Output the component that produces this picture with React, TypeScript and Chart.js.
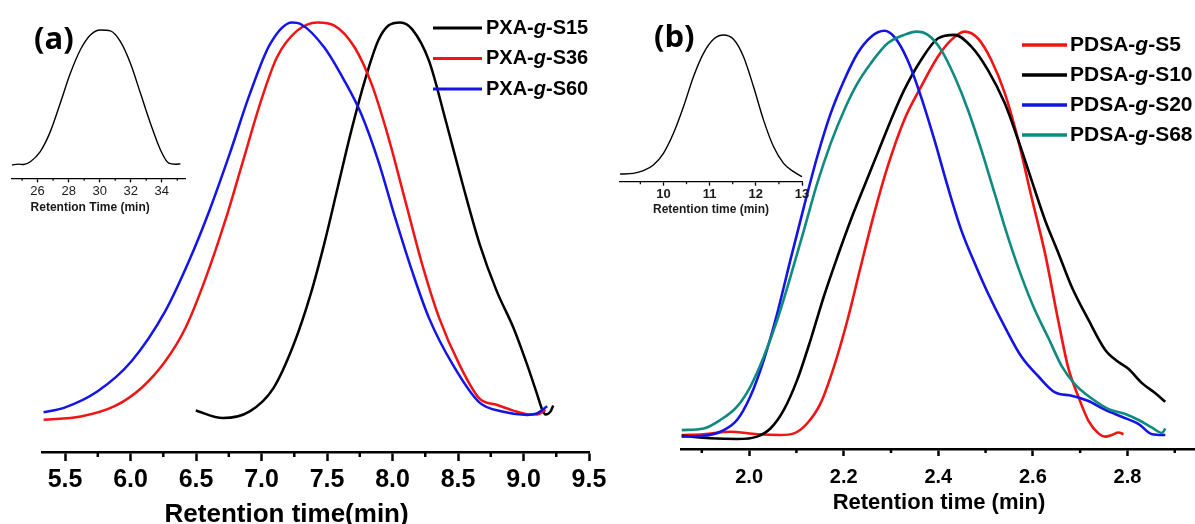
import React, { useEffect, useRef } from 'react';
import { Chart, registerables } from 'chart.js';
Chart.register(...registerables);

const FONT = "'Liberation Sans', Arial, Helvetica, sans-serif";

// ---------- Panel (a) main ----------
const aMajorTicks = [5.5, 6.0, 6.5, 7.0, 7.5, 8.0, 8.5, 9.0, 9.5];
const aMinorTicks = [5.75, 6.25, 6.75, 7.25, 7.75, 8.25, 8.75, 9.25];
const aS15X = [6.498, 6.704, 6.910, 7.091, 7.246, 7.375, 7.478, 7.581, 7.685, 7.788, 7.891, 7.969, 8.059, 8.149, 8.278, 8.407, 8.536, 8.665, 8.794, 8.923, 9.027, 9.104, 9.143, 9.168, 9.207, 9.227];
const aS15Y = [0.015, -0.004, 0.013, 0.072, 0.183, 0.310, 0.437, 0.580, 0.724, 0.851, 0.953, 0.991, 0.999, 0.982, 0.902, 0.749, 0.588, 0.437, 0.319, 0.225, 0.132, 0.056, 0.017, 0.005, 0.013, 0.028];
const aS36X = [5.336, 5.620, 5.878, 6.085, 6.265, 6.420, 6.575, 6.730, 6.859, 6.988, 7.117, 7.272, 7.427, 7.556, 7.710, 7.840, 7.969, 8.098, 8.227, 8.356, 8.510, 8.665, 8.800, 8.923, 9.025, 9.104, 9.168];
const aS36Y = [-0.008, 0.0, 0.026, 0.073, 0.140, 0.225, 0.352, 0.504, 0.648, 0.792, 0.910, 0.978, 0.999, 0.991, 0.936, 0.843, 0.707, 0.546, 0.385, 0.250, 0.132, 0.045, 0.029, 0.015, 0.006, 0.005, 0.017];
const aS60X = [5.336, 5.491, 5.749, 6.007, 6.265, 6.446, 6.601, 6.756, 6.910, 7.065, 7.233, 7.298, 7.478, 7.633, 7.762, 7.891, 8.020, 8.149, 8.278, 8.459, 8.665, 8.846, 9.027, 9.103, 9.181];
const aS60Y = [0.011, 0.022, 0.064, 0.140, 0.267, 0.394, 0.521, 0.665, 0.817, 0.944, 0.999, 0.995, 0.936, 0.851, 0.766, 0.648, 0.504, 0.369, 0.250, 0.132, 0.035, 0.012, 0.004, 0.008, 0.026];

// ---------- Panel (a) inset ----------
const iaMajorTicks = [26, 28, 30, 32, 34];
const iaMinorTicks = [25, 27, 29, 31, 33, 35];
const iaX = [24.35, 24.75, 25.10, 25.53, 26.17, 26.82, 27.46, 28.11, 28.75, 29.40, 30.05, 30.69, 31.34, 31.98, 32.63, 33.27, 33.92, 34.45, 34.88, 35.21];
const iaY = [0, 0.006, 0.003, 0.024, 0.099, 0.247, 0.457, 0.679, 0.852, 0.963, 1.0, 0.993, 0.913, 0.753, 0.531, 0.309, 0.111, 0.013, 0.005, 0.008];

// ---------- Panel (b) main ----------
const bMajorTicks = [2.0, 2.2, 2.4, 2.6, 2.8];
const bMinorTicks = [1.9, 2.1, 2.3, 2.5, 2.7, 2.9];
const bS5X = [1.8575, 1.9036, 1.960, 2.0167, 2.066, 2.0947, 2.123, 2.151, 2.1795, 2.208, 2.236, 2.2645, 2.293, 2.328, 2.3636, 2.399, 2.427, 2.4556, 2.484, 2.512, 2.5406, 2.569, 2.597, 2.6256, 2.654, 2.675, 2.696, 2.7176, 2.7387, 2.753, 2.767, 2.781, 2.7917];
const bS5Y = [0.0, 0.002, 0.008, 0.002, 0.0, 0.004, 0.029, 0.078, 0.169, 0.284, 0.416, 0.547, 0.663, 0.778, 0.860, 0.934, 0.975, 0.996, 0.979, 0.926, 0.844, 0.728, 0.588, 0.449, 0.280, 0.165, 0.095, 0.035, 0.004, -0.004, 0.0, 0.006, 0.002];
const bS10X = [1.8575, 1.9178, 1.9744, 2.0167, 2.045, 2.0734, 2.1017, 2.130, 2.158, 2.1867, 2.215, 2.243, 2.2717, 2.300, 2.328, 2.3636, 2.399, 2.4345, 2.470, 2.505, 2.5406, 2.569, 2.597, 2.6256, 2.654, 2.682, 2.7176, 2.753, 2.781, 2.8025, 2.8307, 2.859, 2.880];
const bS10Y = [-0.002, -0.008, -0.010, -0.004, 0.016, 0.062, 0.136, 0.235, 0.342, 0.440, 0.531, 0.613, 0.696, 0.778, 0.852, 0.926, 0.979, 0.988, 0.959, 0.901, 0.819, 0.728, 0.630, 0.531, 0.449, 0.366, 0.284, 0.210, 0.180, 0.163, 0.128, 0.103, 0.082];
const bS20X = [1.8575, 1.9036, 1.939, 1.9744, 2.0025, 2.031, 2.0594, 2.0875, 2.116, 2.144, 2.1725, 2.201, 2.229, 2.2575, 2.286, 2.307, 2.335, 2.3636, 2.392, 2.420, 2.4486, 2.477, 2.505, 2.5406, 2.576, 2.6114, 2.647, 2.682, 2.7176, 2.753, 2.788, 2.8237, 2.852, 2.880];
const bS20Y = [-0.004, -0.002, 0.008, 0.037, 0.095, 0.185, 0.300, 0.433, 0.564, 0.687, 0.794, 0.876, 0.942, 0.983, 0.998, 0.983, 0.926, 0.835, 0.728, 0.613, 0.506, 0.424, 0.350, 0.267, 0.193, 0.145, 0.105, 0.097, 0.084, 0.062, 0.045, 0.027, 0.002, 0.0];
const bS68X = [1.8575, 1.9036, 1.939, 1.9744, 2.0025, 2.031, 2.0594, 2.0875, 2.116, 2.144, 2.1725, 2.201, 2.229, 2.2575, 2.293, 2.328, 2.3535, 2.378, 2.406, 2.4345, 2.463, 2.491, 2.519, 2.547, 2.576, 2.604, 2.6326, 2.661, 2.689, 2.7245, 2.760, 2.7954, 2.8237, 2.852, 2.873, 2.880];
const bS68Y = [0.012, 0.016, 0.037, 0.070, 0.119, 0.193, 0.284, 0.391, 0.506, 0.621, 0.720, 0.802, 0.868, 0.918, 0.967, 0.988, 0.996, 0.988, 0.951, 0.885, 0.802, 0.704, 0.597, 0.490, 0.391, 0.309, 0.240, 0.170, 0.125, 0.090, 0.064, 0.052, 0.037, 0.018, 0.005, 0.016];

// ---------- Panel (b) inset ----------
const ibMajorTicks = [10, 11, 12, 13];
const ibMinorTicks = [9.5, 10.5, 11.5, 12.5];
const ibX = [9.061, 9.350, 9.566, 9.783, 10.0, 10.217, 10.434, 10.650, 10.867, 11.084, 11.301, 11.517, 11.734, 11.951, 12.168, 12.385, 12.601, 12.818, 13.0];
const ibY = [0, 0.005, 0.024, 0.065, 0.149, 0.293, 0.484, 0.700, 0.868, 0.969, 1.0, 0.969, 0.844, 0.628, 0.388, 0.196, 0.077, 0.017, -0.019];

const pts = (xs: number[], ys: number[]) => xs.map((x, i) => ({ x, y: ys[i] }));

const minorTickPlugin = {
  id: 'minorTicks',
  afterDraw(chart: any, _args: any, o: any) {
    if (!o || !o.values) return;
    const s = chart.scales.x;
    const ctx = chart.ctx;
    ctx.save();
    ctx.strokeStyle = o.color;
    ctx.lineWidth = o.width;
    for (const v of o.values) {
      const px = s.getPixelForValue(v);
      ctx.beginPath();
      ctx.moveTo(px, s.top);
      ctx.lineTo(px, s.top + o.length);
      ctx.stroke();
    }
    ctx.restore();
  },
};

const seriesLegendPlugin = {
  id: 'seriesLegend',
  afterDatasetsDraw(chart: any, _args: any, o: any) {
    if (!o || !o.display) return;
    const ctx = chart.ctx;
    ctx.save();
    chart.data.datasets.forEach((ds: any, k: number) => {
      const y = o.y + k * o.dy;
      ctx.strokeStyle = ds.borderColor;
      ctx.lineWidth = o.lineWidth;
      ctx.beginPath();
      ctx.moveTo(o.x, y);
      ctx.lineTo(o.x + o.lineLen, y);
      ctx.stroke();
      const [pre, post] = String(ds.label).split('-g-');
      const parts: [string, string][] = [[pre + '-', 'bold'], ['g', 'italic bold'], ['-' + post, 'bold']];
      let x = o.x + o.lineLen + o.gap;
      ctx.fillStyle = '#000';
      ctx.textBaseline = 'middle';
      ctx.textAlign = 'left';
      for (const [t, st] of parts) {
        ctx.font = `${st} ${o.size}px ${o.family}`;
        ctx.fillText(t, x, y);
        x += ctx.measureText(t).width;
      }
    });
    ctx.restore();
  },
};

function lineDs(label: string, data: any[], color: string, width: number, order: number) {
  return {
    label,
    data,
    borderColor: color,
    backgroundColor: color,
    borderWidth: width,
    pointRadius: 0,
    cubicInterpolationMode: 'monotone' as const,
    fill: false,
    clip: false as any,
    order,
  };
}

function xScale(p: {
  min: number; max: number; major: number[]; digits: number; height: number;
  tickSize: number; tickPad: number; tickLen: number; lineW: number; title: string; titleSize: number;
  color?: string; tickWeight?: string;
}) {
  return {
    type: 'linear' as const,
    min: p.min,
    max: p.max,
    afterBuildTicks: (s: any) => { s.ticks = p.major.map((v) => ({ value: v })); },
    afterFit: (s: any) => { s.height = p.height; },
    ticks: {
      callback: (v: any) => Number(v).toFixed(p.digits),
      font: { family: FONT, size: p.tickSize, weight: (p.tickWeight || 'bold') as any },
      color: p.color || '#000',
      padding: p.tickPad,
      maxRotation: 0,
      minRotation: 0,
      autoSkip: false,
    },
    grid: { drawOnChartArea: false, drawTicks: true, tickLength: p.tickLen, tickWidth: p.lineW, tickColor: '#000' },
    border: { display: true, color: '#000', width: p.lineW },
    title: {
      display: true,
      text: p.title,
      font: { family: FONT, size: p.titleSize, weight: 'bold' as const },
      color: p.color || '#000',
      padding: { top: 0, bottom: 0 },
    },
  };
}

const baseOpts = {
  responsive: false,
  animation: false as const,
  devicePixelRatio: 1,
  events: [] as any[],
};

const configA: any = {
  type: 'line',
  data: {
    datasets: [
      lineDs('PXA-g-S15', pts(aS15X, aS15Y), '#000000', 2.5, 2),
      lineDs('PXA-g-S36', pts(aS36X, aS36Y), '#f01414', 2.5, 1),
      lineDs('PXA-g-S60', pts(aS60X, aS60Y), '#1414e6', 2.5, 0),
    ],
  },
  options: {
    ...baseOpts,
    layout: { padding: { left: 42, right: 41, top: 22, bottom: 0 } },
    scales: {
      x: xScale({ min: 5.324, max: 9.5, major: aMajorTicks, digits: 1, height: 78, tickSize: 25, tickPad: 4, tickLen: 9, lineW: 2.5, title: 'Retention time(min)        ', titleSize: 26 }),
      y: { display: false, min: -0.09, max: 1.0 },
    },
    plugins: {
      legend: { display: false },
      tooltip: { enabled: false },
      minorTicks: { values: aMinorTicks, length: 5, width: 2.5, color: '#000' },
      seriesLegend: { display: true, x: 433, y: 28, dy: 30.5, lineLen: 49, gap: 4, lineWidth: 3, size: 20, family: FONT },
    },
  },
  plugins: [minorTickPlugin, seriesLegendPlugin],
};

const configIA: any = {
  type: 'line',
  data: { datasets: [lineDs('inset a', pts(iaX, iaY), '#000000', 1.4, 0)] },
  options: {
    ...baseOpts,
    layout: { padding: { left: 12, right: 25, top: 30, bottom: 9.7 } },
    scales: {
      x: xScale({ min: 24.35, max: 35.5, major: iaMajorTicks, digits: 0, height: 37, tickSize: 13, tickPad: 1.5, tickLen: 4, lineW: 1.3, title: 'Retention Time (min)     ', titleSize: 12, color: '#1a1a1a', tickWeight: 'normal' }),
      y: { display: false, min: -0.099, max: 1.0 },
    },
    plugins: {
      legend: { display: false },
      tooltip: { enabled: false },
      minorTicks: { values: iaMinorTicks, length: 2.5, width: 1.2, color: '#000' },
    },
  },
  plugins: [minorTickPlugin],
};

const configB: any = {
  type: 'line',
  data: {
    datasets: [
      lineDs('PDSA-g-S5', pts(bS5X, bS5Y), '#f01414', 2.6, 3),
      lineDs('PDSA-g-S10', pts(bS10X, bS10Y), '#000000', 2.6, 2),
      lineDs('PDSA-g-S20', pts(bS20X, bS20Y), '#1414e6', 2.6, 1),
      lineDs('PDSA-g-S68', pts(bS68X, bS68Y), '#0f8a80', 2.6, 0),
    ],
  },
  options: {
    ...baseOpts,
    layout: { padding: { left: 81, right: 3, top: 30, bottom: 8 } },
    scales: {
      x: xScale({ min: 1.856, max: 2.947, major: bMajorTicks, digits: 1, height: 67, tickSize: 20, tickPad: 9, tickLen: 7, lineW: 2.5, title: 'Retention time (min)', titleSize: 22 }),
      y: { display: false, min: -0.0346, max: 1.0 },
    },
    plugins: {
      legend: { display: false },
      tooltip: { enabled: false },
      minorTicks: { values: bMinorTicks, length: 4, width: 2.5, color: '#000' },
      seriesLegend: { display: true, x: 422, y: 45, dy: 30, lineLen: 45, gap: 3, lineWidth: 3.5, size: 21, family: FONT },
    },
  },
  plugins: [minorTickPlugin, seriesLegendPlugin],
};

const configIB: any = {
  type: 'line',
  data: { datasets: [lineDs('inset b', pts(ibX, ibY), '#000000', 1.4, 0)] },
  options: {
    ...baseOpts,
    layout: { padding: { left: 20, right: 18, top: 35, bottom: 7.8 } },
    scales: {
      x: xScale({ min: 9.06, max: 13.0, major: ibMajorTicks, digits: 0, height: 35.5, tickSize: 13, tickPad: 0.5, tickLen: 4, lineW: 1.3, title: 'Retention time (min)', titleSize: 12, color: '#1a1a1a' }),
      y: { display: false, min: -0.055, max: 1.0 },
    },
    plugins: {
      legend: { display: false },
      tooltip: { enabled: false },
      minorTicks: { values: ibMinorTicks, length: 2.5, width: 1.2, color: '#000' },
    },
  },
  plugins: [minorTickPlugin],
};

function ChartBox({ config, left, top, width, height }: { config: any; left: number; top: number; width: number; height: number }) {
  const ref = useRef<HTMLCanvasElement>(null);
  useEffect(() => {
    if (!ref.current) return;
    const c = new Chart(ref.current, config);
    return () => c.destroy();
  }, [config]);
  return (
    <canvas
      ref={ref}
      width={width}
      height={height}
      style={{ position: 'absolute', left, top, width, height }}
    />
  );
}

const panelLabel: React.CSSProperties = {
  position: 'absolute',
  fontFamily: "'Open Sans', 'Noto Sans', sans-serif",
  fontWeight: 700,
  fontSize: 31,
  lineHeight: '31px',
  color: '#000',
  margin: 0,
};

export default function App() {
  return (
    <div style={{ position: 'fixed', left: 0, top: 0, width: 1195, height: 524, overflow: 'hidden', background: '#fff' }}>
      <ChartBox config={configA} left={0} top={0} width={630} height={530} />
      <ChartBox config={configB} left={600} top={0} width={600} height={524} />
      <ChartBox config={configIA} left={0} top={0} width={210} height={225} />
      <ChartBox config={configIB} left={600} top={0} width={220} height={225} />
      <div style={{ ...panelLabel, left: 34, top: 22 }}>(a)</div>
      <div style={{ ...panelLabel, left: 654, top: 20 }}>(b)</div>
    </div>
  );
}
